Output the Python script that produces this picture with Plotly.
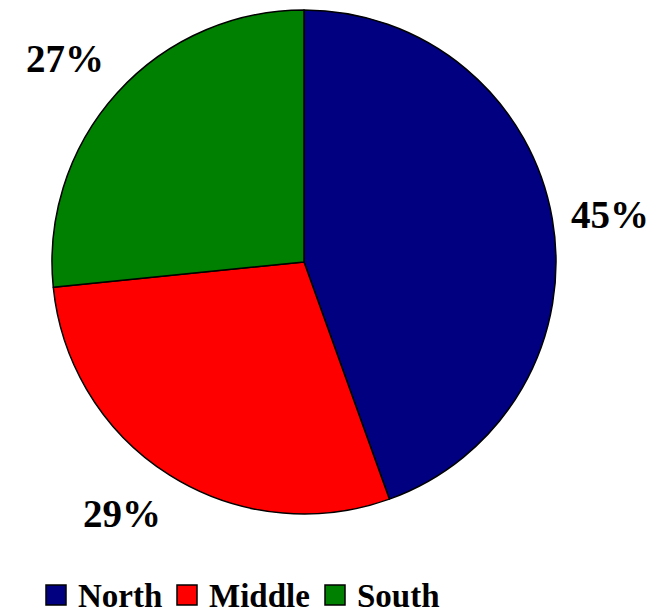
import math
import plotly.graph_objects as go

labels = ["North", "Middle", "South"]
values = [44.5, 28.9, 26.6]
colors = ["#000080", "#FF0000", "#008000"]

FONT = "Liberation Serif"
W, H = 656, 606  # page body has an 8px margin

# pie geometry in figure pixels
CX, CY, R = 296, 254, 252
LABEL_SIZE = 39
LEGEND_SIZE = 33
# legend layout (figure pixels): left edge of each swatch, swatch size, text offset, middle line
LEG_X = [38, 169, 317]
LEG_SW = 20
LEG_TXT_DX = 30
LEG_MID_Y = 588

fig = go.Figure()
fig.add_trace(go.Pie(
    labels=labels,
    values=values,
    sort=False,
    direction="clockwise",
    rotation=0,
    marker=dict(colors=colors, line=dict(color="black", width=1.5)),
    textinfo="none",
    domain=dict(x=[(CX - R) / W, (CX + R) / W], y=[1 - (CY + R) / H, 1 - (CY - R) / H]),
    hoverinfo="label+percent",
    showlegend=False,
))

# percentage labels placed outside each slice (Excel-like "outside end")
total = sum(values)
cum = 0.0
hw, hh = LABEL_SIZE * 0.92, LABEL_SIZE * 0.5
for v in values:
    mid = (cum + v / 2) / total * 2 * math.pi
    cum += v
    ux, uy = math.sin(mid), -math.cos(mid)
    dist = R + 22
    px = CX + dist * ux + math.copysign(hw, ux)
    py = CY + dist * uy + (0 if abs(ux) > 0.9 else math.copysign(hh, uy))
    pct = math.floor(v / total * 100 + 0.5)
    fig.add_annotation(
        x=px / W, y=1 - py / H, xref="paper", yref="paper",
        xanchor="center", yanchor="middle", showarrow=False,
        text=f"{pct}%",
        font=dict(family=FONT, size=LABEL_SIZE, color="black", weight="bold"),
    )

# legend: square swatches with bold serif labels
for lab, col, lx in zip(labels, colors, LEG_X):
    fig.add_shape(
        type="rect", xref="paper", yref="paper",
        x0=lx / W, x1=(lx + LEG_SW) / W,
        y0=1 - (LEG_MID_Y + LEG_SW / 2 - 1) / H, y1=1 - (LEG_MID_Y - LEG_SW / 2 - 1) / H,
        fillcolor=col, line=dict(color="black", width=1.5),
    )
    fig.add_annotation(
        x=(lx + LEG_TXT_DX) / W, y=1 - LEG_MID_Y / H, xref="paper", yref="paper",
        xanchor="left", yanchor="middle", showarrow=False, text=lab,
        font=dict(family=FONT, size=LEGEND_SIZE, color="black", weight="bold"),
    )

fig.update_layout(
    width=W, height=H,
    margin=dict(l=0, r=0, t=0, b=0),
    paper_bgcolor="white",
    font=dict(family=FONT, color="black"),
    showlegend=False,
)
fig.write_html("out.html")
